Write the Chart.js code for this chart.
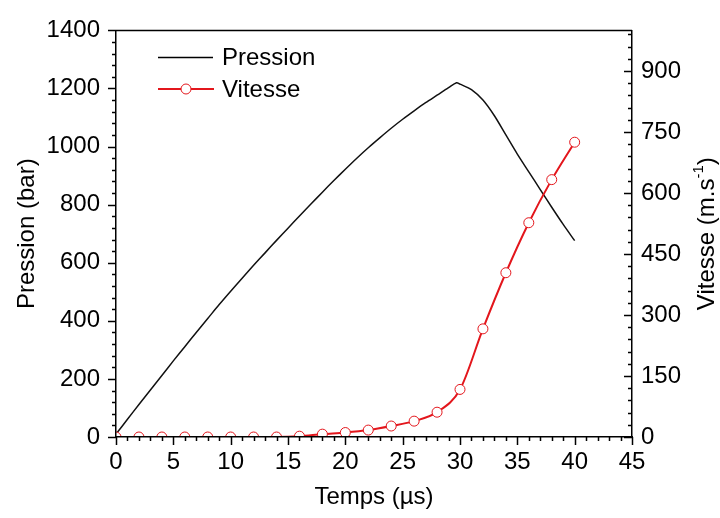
<!DOCTYPE html>
<html>
<head>
<meta charset="utf-8">
<script src="https://cdn.jsdelivr.net/npm/chart.js@4.4.1/dist/chart.umd.min.js"></script>
<style>
  html, body { margin: 0; padding: 0; background: #fff; }
  #chart { display: block; }
</style>
</head>
<body>
<canvas id="chart" width="720" height="518"></canvas>
<script>
// Pressure curve (bar) vs time (µs)
const pressureTime = [0, 1, 2, 3, 4, 5, 6, 7, 8, 9, 10, 11, 12, 13, 14, 15, 16, 17, 18, 19, 20,
    21, 22, 23, 24, 25, 26, 27, 28, 29, 29.7, 30, 31, 32, 33, 34, 35, 36, 37, 38, 39, 40];
const pressureBar = [10, 61, 112, 162, 212, 262, 311, 360, 408, 456, 502, 547, 591, 634, 677, 719, 761, 802, 843, 883, 922,
    960, 996, 1030, 1063, 1094, 1123, 1151, 1177, 1203, 1220, 1215, 1196, 1160, 1106, 1040, 974, 913, 852, 791, 732, 676];

// Velocity (m/s) sampled every 2 µs
const speedTime = [0, 2, 4, 6, 8, 10, 12, 14, 16, 18, 20, 22, 24, 26, 28, 30, 32, 34, 36, 38, 40];
const speedValue = [0, 0, 0, 0, 0, 0, 0, 0, 2, 7, 11, 17, 27, 39, 61, 117, 266, 404, 527, 633, 725];

// Axis ticks
const timeTicks = [0, 5, 10, 15, 20, 25, 30, 35, 40, 45];
const pressureTicks = [0, 200, 400, 600, 800, 1000, 1200, 1400];
const speedTicks = [0, 150, 300, 450, 600, 750, 900];

const FONT = "'Liberation Sans', Arial, sans-serif";
const RED = '#e3161c';

function makeTicks(values) {
    return function(scale) {
        scale.ticks = values.map(v => ({ value: v }));
    };
}
const plain = v => String(v);

// minor + major tick marks, top frame line, legend and right title
const framePlugin = {
    id: 'frame',
    afterDraw(chart) {
        const ctx = chart.ctx;
        const area = chart.chartArea;
        const sx = chart.scales.x, sy = chart.scales.y, sy1 = chart.scales.y1;
        ctx.save();
        ctx.strokeStyle = '#000';
        ctx.lineWidth = 1.5;

        // x axis: outward (down)
        ctx.beginPath();
        for (let v = 0; v <= 45; v += 1) {
            const px = Math.round(sx.getPixelForValue(v)) + 0.5;
            const len = v % 5 === 0 ? 8 : 4;
            ctx.moveTo(px, area.bottom);
            ctx.lineTo(px, area.bottom + len);
        }
        // left axis: outward
        for (let v = 0; v <= 1400; v += 40) {
            const py = Math.round(sy.getPixelForValue(v)) + 0.5;
            const len = v % 200 === 0 ? 8 : 4;
            ctx.moveTo(area.left, py);
            ctx.lineTo(area.left - len, py);
        }
        // right axis: inward
        for (let v = 0; v <= 990; v += 30) {
            const py = Math.round(sy1.getPixelForValue(v)) + 0.5;
            const len = v % 150 === 0 ? 8 : 4;
            ctx.moveTo(area.right, py);
            ctx.lineTo(area.right - len, py);
        }
        ctx.stroke();

        // top frame
        ctx.beginPath();
        ctx.moveTo(area.left, area.top);
        ctx.lineTo(area.right, area.top);
        ctx.stroke();

        // legend
        const lx = area.left + 42;
        ctx.font = '24px ' + FONT;
        ctx.textBaseline = 'middle';
        ctx.fillStyle = '#000';
        ctx.lineWidth = 1.5;
        ctx.strokeStyle = '#000';
        ctx.beginPath();
        ctx.moveTo(lx, 57.5);
        ctx.lineTo(lx + 55, 57.5);
        ctx.stroke();
        ctx.fillText('Pression', lx + 64, 58);

        ctx.strokeStyle = RED;
        ctx.lineWidth = 2;
        ctx.beginPath();
        ctx.moveTo(lx, 89);
        ctx.lineTo(lx + 56, 89);
        ctx.stroke();
        ctx.beginPath();
        ctx.arc(lx + 28, 89, 5, 0, Math.PI * 2);
        ctx.fillStyle = '#fff';
        ctx.fill();
        ctx.lineWidth = 1;
        ctx.stroke();
        ctx.fillStyle = '#000';
        ctx.fillText('Vitesse', lx + 64, 90);

        // right axis title (reads bottom to top)
        ctx.translate(706, (area.top + area.bottom) / 2);
        ctx.rotate(-Math.PI / 2);
        const main = 'Vitesse (m.s';
        ctx.font = '24px ' + FONT;
        const w1 = ctx.measureText(main).width;
        ctx.font = '15px ' + FONT;
        const w2 = ctx.measureText('-1').width;
        ctx.font = '24px ' + FONT;
        const w3 = ctx.measureText(')').width;
        let x0 = -(w1 + w2 + w3) / 2;
        ctx.textBaseline = 'alphabetic';
        ctx.fillText(main, x0, 8);
        ctx.font = '15px ' + FONT;
        ctx.fillText('-1', x0 + w1, -3);
        ctx.font = '24px ' + FONT;
        ctx.fillText(')', x0 + w1 + w2, 8);
        ctx.restore();
    }
};

const ctx = document.getElementById('chart').getContext('2d');
new Chart(ctx, {
    type: 'line',
    data: {
        datasets: [{
            label: 'Pression',
            data: pressureTime.map((t, i) => ({ x: t, y: pressureBar[i] })),
            yAxisID: 'y',
            borderColor: '#111',
            borderWidth: 1.5,
            pointRadius: 0,
            tension: 0.3,
            order: 1
        }, {
            label: 'Vitesse',
            data: speedTime.map((t, i) => ({ x: t, y: speedValue[i] })),
            yAxisID: 'y1',
            borderColor: RED,
            borderWidth: 2,
            cubicInterpolationMode: 'monotone',
            pointRadius: 5,
            pointBorderWidth: 1,
            pointBorderColor: RED,
            pointBackgroundColor: '#fff',
            order: 0
        }]
    },
    options: {
        responsive: false,
        animation: false,
        events: [],
        layout: { padding: { top: 22, left: 0, right: 0, bottom: 0 } },
        plugins: {
            legend: { display: false },
            tooltip: { enabled: false }
        },
        scales: {
            x: {
                type: 'linear',
                min: 0,
                max: 45,
                afterBuildTicks: makeTicks(timeTicks),
                afterFit: s => { s.height = 81; },
                grid: { display: true, drawOnChartArea: false, drawTicks: false },
                border: { color: '#000', width: 1.5, z: 1 },
                ticks: { color: '#000', padding: 11, font: { family: FONT, size: 24 }, maxRotation: 0, callback: plain },
                title: { display: true, text: 'Temps (µs)', color: '#000', font: { family: FONT, size: 24 }, padding: { top: 0, bottom: 6 } }
            },
            y: {
                type: 'linear',
                position: 'left',
                min: 0,
                max: 1400,
                afterBuildTicks: makeTicks(pressureTicks),
                afterFit: s => { s.width = 116; },
                grid: { display: true, drawOnChartArea: false, drawTicks: false },
                border: { color: '#000', width: 1.5, z: 1 },
                ticks: { color: '#000', padding: 16, font: { family: FONT, size: 24 }, callback: plain },
                title: { display: true, text: 'Pression (bar)', color: '#000', font: { family: FONT, size: 24 }, padding: { top: 13, bottom: 0 } }
            },
            y1: {
                type: 'linear',
                position: 'right',
                min: 0,
                max: 1000,
                afterBuildTicks: makeTicks(speedTicks),
                afterFit: s => { s.width = 88; },
                grid: { display: true, drawOnChartArea: false, drawTicks: false },
                border: { color: '#000', width: 1.5, z: 1 },
                ticks: { color: '#000', padding: 9, font: { family: FONT, size: 24 }, callback: plain },
                title: { display: false }
            }
        }
    },
    plugins: [framePlugin]
});
</script>
</body>
</html>
